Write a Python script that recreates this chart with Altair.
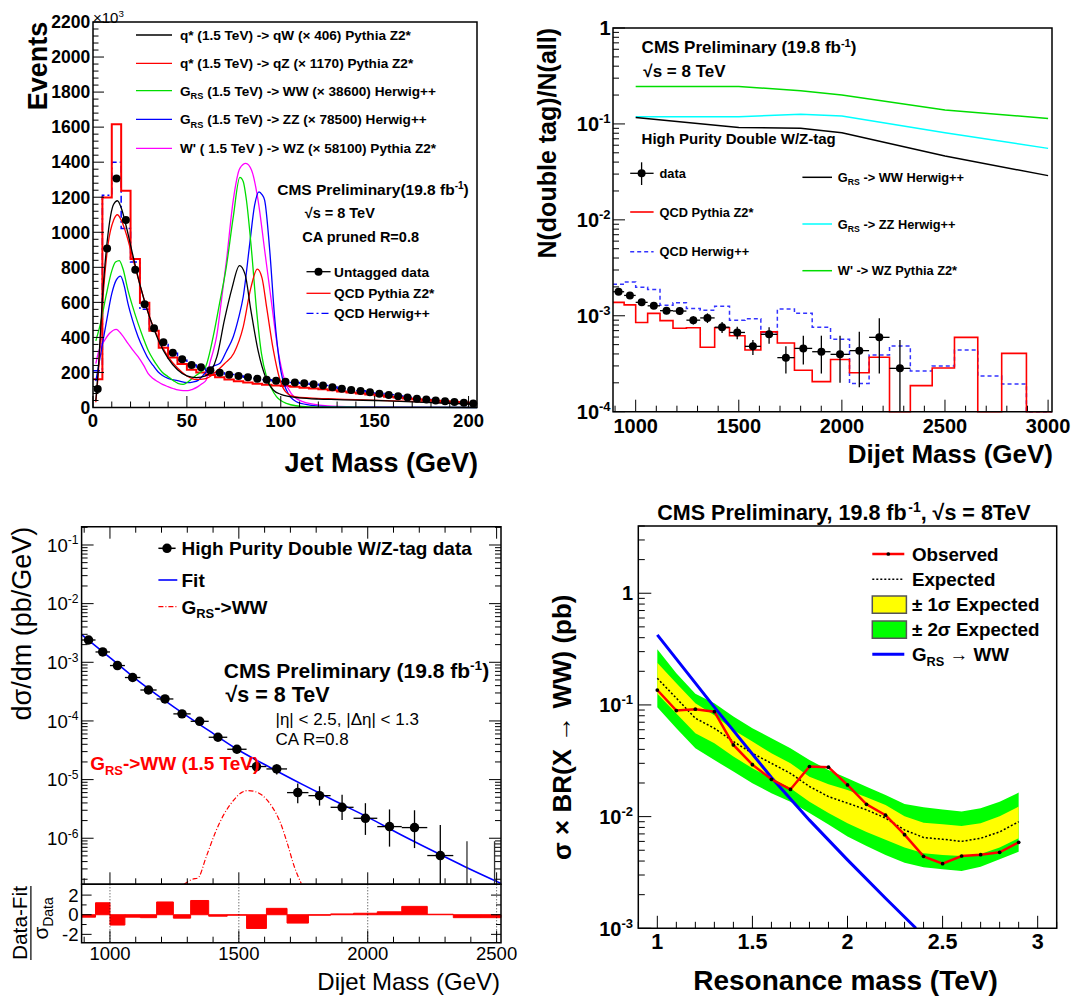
import math
import altair as alt
import pandas as pd

FONT = "Liberation Sans"
DUMMY = pd.DataFrame({"d": [0]})

# ======================= DATA =======================
# ---- top-left: jet mass ----
JM_EDGES = [0, 5, 10, 15, 20, 25, 30, 35, 40, 45, 50, 55, 60, 65, 70, 75, 80, 85, 90, 95, 100,
            105, 110, 115, 120, 125, 130, 135, 140, 145, 150, 155, 160, 165, 170, 175, 180, 185,
            190, 195, 200, 205]
JM_DATA = [105, 908, 1307, 1070, 786, 589, 452, 372, 313, 275, 243, 230, 212, 199, 187, 180, 172,
           164, 158, 153, 147, 143, 138, 133, 125, 115, 107, 100, 94, 87, 78, 71, 64, 57, 50, 45,
           40, 35, 31, 27, 23]
JM_PYTHIA = [161, 1199, 1616, 1237, 847, 598, 438, 341, 286, 248, 215, 200, 185, 172, 160, 150,
             142, 135, 130, 126, 122, 118, 113, 108, 104, 98, 92, 86, 80, 74, 68, 62, 57, 52, 47,
             43, 39, 35, 32, 28, 25]
JM_HERWIG = [210, 1212, 1399, 1022, 830, 560, 440, 360, 310, 270, 242, 225, 210, 198, 188, 180,
             172, 165, 159, 153, 148, 143, 138, 133, 126, 117, 109, 102, 95, 88, 80, 73, 66, 59,
             52, 46, 41, 36, 32, 28, 24]
QW_X = [1.5, 3, 5, 8, 11, 13, 15, 18, 21, 25, 30, 35, 40, 45, 50, 55, 60, 63, 66, 70, 74, 78, 81,
        84, 88, 92, 96, 100, 105, 110, 120, 130, 140, 150, 160, 170, 180, 190, 200, 204.5]
QW_Y = [40, 250, 620, 990, 1160, 1180, 1140, 1020, 880, 700, 520, 380, 280, 215, 180, 170, 180,
        210, 290, 500, 680, 810, 760, 560, 320, 170, 100, 75, 62, 55, 48, 45, 42, 40, 36, 32, 28,
        24, 20, 18]
QZ_X = [1.5, 3, 5, 8, 11, 13, 15, 18, 21, 25, 30, 35, 40, 45, 50, 55, 60, 65, 70, 75, 80, 84,
        87.5, 90, 92.5, 96, 99.5, 103, 108, 115, 125, 140, 160, 180, 200, 204.5]
QZ_Y = [30, 220, 580, 930, 1070, 1100, 1070, 980, 860, 700, 520, 390, 290, 225, 180, 160, 165,
        200, 250, 310, 460, 680, 790, 740, 570, 330, 160, 85, 60, 55, 50, 45, 38, 30, 22, 20]
WW_X = [1.5, 4, 7, 10, 12, 14, 16, 18.6, 21, 24, 27, 29.3, 32, 34.6, 37, 40, 43, 45.2, 48, 51,
        54, 57, 60, 64, 67.5, 71, 74.7, 78.2, 80, 81.7, 84.4, 87.1, 89.7, 92.4, 95, 97.7, 100,
        103, 108, 115, 130, 150, 204.5]
WW_Y = [380, 480, 640, 780, 830, 838, 790, 670, 580, 480, 390, 328, 275, 233, 200, 176, 152, 138,
        132, 150, 176, 200, 233, 404, 600, 803, 1088, 1313, 1290, 1184, 899, 556, 309, 176, 110,
        62, 40, 24, 10, 4, 2, 1, 0]
ZZ_X = [1.5, 4, 7, 10, 12.5, 14.7, 16.5, 18.6, 21, 24, 27, 29.3, 32, 34.6, 37, 40, 45, 50.5, 53,
        56, 60, 64, 67.6, 71, 74.7, 77.5, 80, 83.5, 86, 88.4, 90, 91.4, 94.1, 96.7, 99.4, 101,
        103, 108.3, 115.4, 125, 150, 204.5]
ZZ_Y = [150, 300, 480, 650, 730, 750, 700, 594, 500, 404, 330, 281, 240, 204, 183, 166, 153, 142,
        145, 155, 200, 235, 252, 320, 404, 510, 632, 937, 1150, 1231, 1215, 1184, 899, 518, 252,
        160, 100, 33, 14, 5, 2, 0]
WZ_X = [1.5, 3, 6, 9, 12.4, 15, 18.6, 21, 24, 27, 29.3, 32, 34.6, 37, 39.9, 43, 45.2, 48, 50.5,
        53, 55.9, 58, 60.3, 62.2, 64, 65.8, 68.5, 71.1, 74.7, 78.2, 81.4, 84.4, 87.9, 91.4, 94.9,
        98.5, 102, 105.5, 111.7, 120.6, 135, 160, 204.5]
WZ_Y = [250, 320, 380, 425, 446, 420, 366, 330, 290, 240, 195, 165, 147, 132, 119, 107, 100, 96,
        96, 104, 119, 135, 157, 252, 320, 404, 620, 841, 1184, 1365, 1393, 1355, 1184, 899, 613,
        328, 157, 81, 33, 14, 5, 2, 0]

# ---- top-right: double-tag fraction vs dijet mass ----
DJ_EDGES = [890, 944, 1000, 1058, 1118, 1181, 1246, 1313, 1383, 1455, 1530, 1607, 1687, 1770,
            1856, 1945, 2037, 2132, 2231, 2332, 2438, 2546, 2659, 2775, 2895, 3019]
FR_PYTHIA = [1.38e-3, 1.3e-3, 8.5e-4, 1.06e-3, 8.9e-4, 7.4e-4, 7.5e-4, 4.7e-4, 7.5e-4, 6.2e-4,
             4.4e-4, 6.8e-4, 5.2e-4, 2.7e-4, 2.06e-4, 3.5e-4, 2.55e-4, 3.7e-4, 0, 1.87e-4,
             2.85e-4, 5.96e-4, 0, 4.06e-4, 0]
FR_HERWIG = [2.13e-3, 2.25e-3, 1.98e-3, 1.88e-3, 1.29e-3, 1.37e-3, 1.19e-3, 1.14e-3, 1.26e-3,
             9.0e-4, 9.3e-4, 6.7e-4, 1.18e-3, 1.06e-3, 7.6e-4, 5.7e-4, 1.97e-4, 3.9e-4, 4.84e-4,
             2.66e-4, 2.99e-4, 4.4e-4, 2.35e-4, 1.94e-4, 0]
FR_DATA = [1.78e-3, 1.63e-3, 1.38e-3, 1.27e-3, 1.13e-3, 1.12e-3, 9.0e-4, 9.5e-4, 7.6e-4, 6.7e-4,
           4.8e-4, 6.4e-4, 3.66e-4, 4.57e-4, 4.22e-4, 3.96e-4, 4.33e-4, 5.96e-4, 2.83e-4]
FR_LO = [1.68e-3, 1.54e-3, 1.29e-3, 1.18e-3, 1.04e-3, 1.02e-3, 8.1e-4, 8.4e-4, 6.6e-4, 5.7e-4,
         3.9e-4, 5.1e-4, 2.5e-4, 3.1e-4, 2.5e-4, 2.0e-4, 1.8e-4, 2.5e-4, 1e-4]
FR_HI = [1.88e-3, 1.72e-3, 1.47e-3, 1.36e-3, 1.22e-3, 1.22e-3, 9.9e-4, 1.06e-3, 8.6e-4, 7.7e-4,
         5.6e-4, 7.6e-4, 4.8e-4, 6.2e-4, 6.2e-4, 6.2e-4, 6.8e-4, 9.4e-4, 5.6e-4]
SIG_M = [1000, 1500, 1800, 2000, 2500, 3000]
SIG_WW = [0.117, 0.092, 0.090, 0.081, 0.0463, 0.0289]
SIG_ZZ = [0.119, 0.119, 0.126, 0.121, 0.081, 0.0556]
SIG_WZ = [0.246, 0.246, 0.222, 0.200, 0.140, 0.114]

# ---- bottom-left: dijet spectrum ----
XS_DATA = [2.40e-3, 1.50e-3, 8.8e-4, 5.5e-4, 3.37e-4, 2.37e-4, 1.32e-4, 9.86e-5, 5.27e-5,
           3.29e-5, 1.67e-5, 1.52e-5, 6.0e-6, 5.33e-6, 3.37e-6, 2.19e-6, 1.58e-6, 1.52e-6, 5.07e-7]
XS_LO = [2.3e-3, 1.43e-3, 8.4e-4, 5.2e-4, 3.17e-4, 2.21e-4, 1.21e-4, 8.9e-5, 4.6e-5, 2.8e-5,
         1.35e-5, 1.22e-5, 3.96e-6, 3.6e-6, 2.05e-6, 1.14e-6, 7.2e-7, 6.8e-7, 1e-9]
XS_HI = [2.5e-3, 1.57e-3, 9.2e-4, 5.8e-4, 3.57e-4, 2.53e-4, 1.43e-4, 1.08e-4, 5.9e-5, 3.8e-5,
         2.0e-5, 1.82e-5, 8.6e-6, 7.7e-6, 5.5e-6, 3.96e-6, 3.1e-6, 3.0e-6, 1.69e-6]
XS_EMPTY_HI = [8.9e-7, 8.9e-7]
FIT_M = [890, 1000, 1125, 1250, 1375, 1500, 1625, 1750, 1875, 2000, 2125, 2250, 2375, 2517]
FIT_V = [2.95e-3, 1.2e-3, 4.27e-4, 1.7e-4, 7.24e-5, 3.16e-5, 1.58e-5, 8.13e-6, 4.27e-6, 2.29e-6,
         1.17e-6, 6.17e-7, 3.31e-7, 1.70e-7]
SIGX_M = [1287, 1320, 1341, 1374, 1408, 1441, 1481, 1510, 1537, 1565, 1588, 1628, 1662, 1688,
          1715, 1742]
SIGX_V = [1.64e-7, 2.0e-7, 2.1e-7, 4.9e-7, 1.23e-6, 2.5e-6, 4.5e-6, 6.0e-6, 6.5e-6, 6.2e-6,
          5.5e-6, 3.5e-6, 1.8e-6, 8.2e-7, 3.3e-7, 1.7e-7]
PULL = [-0.25, 1.22, -1.05, -0.25, -0.3, 1.3, -0.35, 1.45, -0.15, -0.05, -1.4, 0.65, -0.85,
        -0.05, 0.08, 0.15, 0.3, 0.85, 0.05, -0.3, -0.3]

# ---- bottom-right: limits ----
MASS = [1.0, 1.1, 1.2, 1.3, 1.4, 1.5, 1.6, 1.7, 1.8, 1.9, 2.0, 2.1, 2.2, 2.3, 2.4, 2.5, 2.6, 2.7,
        2.8, 2.9]
OBS = [0.136, 0.089, 0.0915, 0.087, 0.0438, 0.0292, 0.0216, 0.0175, 0.0281, 0.0277, 0.0192,
       0.0129, 0.0103, 0.00689, 0.00441, 0.00379, 0.00444, 0.00456, 0.00479, 0.00589]
EXP = [0.173, 0.115, 0.076, 0.0618, 0.047, 0.0369, 0.030, 0.0244, 0.0186, 0.0151, 0.0132, 0.0115,
       0.0097, 0.0076, 0.0065, 0.00627, 0.0060, 0.0064, 0.0073, 0.0090]
S1_HI = [0.239, 0.156, 0.1035, 0.081, 0.0597, 0.047, 0.0369, 0.030, 0.0228, 0.0195, 0.0173,
         0.0149, 0.0127, 0.0101, 0.00883, 0.00853, 0.00824, 0.00871, 0.0101, 0.0123]
S1_LO = [0.126, 0.084, 0.0557, 0.0454, 0.0345, 0.0271, 0.0220, 0.0179, 0.0136, 0.0108, 0.0087,
         0.0073, 0.0062, 0.0053, 0.0047, 0.00453, 0.00444, 0.00462, 0.0053, 0.0064]
S2_HI = [0.315, 0.192, 0.126, 0.1035, 0.0786, 0.0618, 0.0503, 0.0409, 0.0321, 0.0262, 0.0220,
         0.0185, 0.0156, 0.0130, 0.0121, 0.0116, 0.0111, 0.0119, 0.0136, 0.0164]
S2_LO = [0.0953, 0.0618, 0.0409, 0.0321, 0.0253, 0.0199, 0.0162, 0.0136, 0.0108, 0.0085, 0.00662,
         0.00546, 0.00453, 0.00387, 0.00352, 0.00338, 0.00326, 0.00356, 0.00415, 0.00485]
GRS_M = [1.0, 1.3, 1.6, 1.8, 2.0, 2.2, 2.36]
GRS_V = [0.424, 0.0955, 0.0224, 0.0093, 0.0041, 0.00186, 0.001]

# ---- tick labels ----
P1_XT = [0, 50, 100, 150, 200]
P1_YT = [0, 200, 400, 600, 800, 1000, 1200, 1400, 1600, 1800, 2000, 2200]
P2_XT = [1000, 1500, 2000, 2500, 3000]
P2_YT = [1e-4, 1e-3, 1e-2, 1e-1, 1.0]
P3_XT = [1000, 1500, 2000, 2500]
P3_YT = [1e-6, 1e-5, 1e-4, 1e-3, 1e-2, 1e-1]
P3_RT = [-2, 0, 2]
P4_XT = [1, 1.5, 2, 2.5, 3]
P4_XL = ["1", "1.5", "2", "2.5", "3"]
P4_YT = [1e-3, 1e-2, 1e-1, 1.0]

# ======================= HELPERS =======================
_WB = {" ": 278, "!": 333, "(": 333, ")": 333, "*": 389, "+": 584, ",": 278, "-": 333, ".": 278,
       "/": 278, ":": 333, "<": 584, "=": 584, ">": 584, "'": 238, "|": 280,
       "A": 722, "B": 722, "C": 722, "D": 722, "E": 667, "F": 611, "G": 778, "H": 722, "I": 278,
       "J": 556, "K": 722, "L": 611, "M": 833, "N": 722, "O": 778, "P": 667, "Q": 778, "R": 722,
       "S": 667, "T": 611, "U": 722, "V": 667, "W": 944, "X": 667, "Y": 667, "Z": 611,
       "a": 556, "b": 611, "c": 556, "d": 611, "e": 556, "f": 333, "g": 611, "h": 611, "i": 278,
       "j": 278, "k": 556, "l": 278, "m": 889, "n": 611, "o": 611, "p": 611, "q": 611, "r": 389,
       "s": 556, "t": 333, "u": 611, "v": 556, "w": 778, "x": 556, "y": 556, "z": 500,
       "\u00d7": 584, "\u221a": 549, "\u2192": 1000, "\u00b1": 584, "\u03c3": 617}
_WR = dict(_WB)
_WR.update({"A": 667, "a": 556, "b": 556, "d": 556, "e": 556, "f": 278, "g": 556, "h": 556,
            "i": 222, "j": 222, "l": 222, "m": 833, "n": 556, "o": 556, "p": 556, "q": 556,
            "r": 333, "s": 500, "t": 278, "u": 556, "v": 500, "y": 500, "|": 260})


def tw(s, size, bold=True):
    tbl = _WB if bold else _WR
    return sum(tbl.get(c, 556) for c in s) / 1000.0 * size


def T(o, s, x, y, size, bold=True, color="black", align="left", baseline="alphabetic", angle=0):
    lead = len(s) - len(s.lstrip(" "))
    s = s.strip(" ")
    x = x + lead * 0.278 * size
    kw = dict(text=s, font=FONT, fontSize=size, fontWeight="bold" if bold else "normal",
              color=color, align=align, baseline=baseline)
    if angle:
        kw["angle"] = angle
    return alt.Chart(DUMMY).mark_text(**kw).encode(x=alt.value(x - o[0]), y=alt.value(y - o[1]))


def rich(o, parts, x, y, size, bold=True, color="black", align="left"):
    sizes = {"n": size, "sup": size * 0.65, "sub": size * 0.68}
    shift = {"n": 0.0, "sup": -0.38 * size, "sub": 0.25 * size}
    widths = [tw(s, sizes[k], bold) for s, k in parts]
    total = sum(widths)
    if align == "center":
        x -= total / 2
    elif align == "right":
        x -= total
    out, cx = [], x
    for (s, k), w in zip(parts, widths):
        out.append(T(o, s, cx, y + shift[k], sizes[k], bold, color))
        cx += w
    return out


def GRS(o, x, y, size, rest, bold=True, color="black"):
    return rich(o, [("G", "n"), ("RS", "sub"), (rest, "n")], x, y, size, bold, color)


def HL(o, x1, x2, y, color, width=1.5, dash=None):
    kw = dict(color=color, strokeWidth=width)
    if dash:
        kw["strokeDash"] = dash
    return alt.Chart(DUMMY).mark_rule(**kw).encode(
        x=alt.value(x1 - o[0]), x2=alt.value(x2 - o[0]), y=alt.value(y - o[1]))


def VL(o, x, y1, y2, color="black", width=1.5):
    return alt.Chart(DUMMY).mark_rule(color=color, strokeWidth=width).encode(
        x=alt.value(x - o[0]), y=alt.value(y1 - o[1]), y2=alt.value(y2 - o[1]))


def BOX(o, x1, x2, y1, y2, fill="white", fill_op=0.0, stroke="black", sw=1.5):
    return alt.Chart(DUMMY).mark_rect(fill=fill, fillOpacity=fill_op, stroke=stroke,
                                      strokeWidth=sw).encode(
        x=alt.value(x1 - o[0]), x2=alt.value(x2 - o[0]),
        y=alt.value(y1 - o[1]), y2=alt.value(y2 - o[1]))


def DOT(o, x, y, size, color="black"):
    return alt.Chart(DUMMY).mark_circle(size=size, color=color, opacity=1).encode(
        x=alt.value(x - o[0]), y=alt.value(y - o[1]))


def xticks(vals, xs, ypix, length):
    df = pd.DataFrame({"t": vals})
    return alt.Chart(df).mark_rule(color="black", strokeWidth=1).encode(
        x=alt.X("t:Q", scale=xs, axis=None), y=alt.value(ypix), y2=alt.value(ypix + length))


def yticks(vals, ys, xpix, length):
    df = pd.DataFrame({"t": vals})
    return alt.Chart(df).mark_rule(color="black", strokeWidth=1).encode(
        y=alt.Y("t:Q", scale=ys, axis=None), x=alt.value(xpix), x2=alt.value(xpix + length))


def xlab(vals, labs, xs, ybase, size, bold=True):
    df = pd.DataFrame({"t": vals, "lab": labs})
    return alt.Chart(df).mark_text(font=FONT, fontSize=size,
                                   fontWeight="bold" if bold else "normal", color="black",
                                   align="center", baseline="alphabetic").encode(
        x=alt.X("t:Q", scale=xs, axis=None), y=alt.value(ybase), text="lab:N")


def ylab(vals, labs, ys, xright, size, bold=True, dy_extra=0.0, align="right"):
    df = pd.DataFrame({"t": vals, "lab": labs})
    return alt.Chart(df).mark_text(font=FONT, fontSize=size,
                                   fontWeight="bold" if bold else "normal", color="black",
                                   align=align, baseline="alphabetic",
                                   dy=0.36 * size + dy_extra).encode(
        y=alt.Y("t:Q", scale=ys, axis=None), x=alt.value(xright), text="lab:N")


def ylab_pow(vals, ys, xright, size, bold=True):
    sup = size * 0.65
    wsup = tw("-0", sup, bold)
    exps = [round(math.log10(v)) for v in vals]
    neg = [v for v, e in zip(vals, exps) if e != 0]
    negl = [str(e) for e in exps if e != 0]
    one = [v for v, e in zip(vals, exps) if e == 0]
    out = [ylab(neg, ["10"] * len(neg), ys, xright - wsup, size, bold)]
    df = pd.DataFrame({"t": neg, "lab": negl})
    out.append(alt.Chart(df).mark_text(font=FONT, fontSize=sup,
                                       fontWeight="bold" if bold else "normal", color="black",
                                       align="left", baseline="alphabetic",
                                       dy=0.36 * size - 0.4 * size).encode(
        y=alt.Y("t:Q", scale=ys, axis=None), x=alt.value(xright - wsup), text="lab:N"))
    if one:
        out.append(ylab(one, ["1"] * len(one), ys, xright, size, bold))
    return out


def step_df(edges, vals):
    return pd.DataFrame({"x": edges, "y": list(vals) + [vals[-1]]})


def log_minor(lo, hi, e0, e1):
    return [k * 10.0 ** e for e in range(e0, e1) for k in range(2, 10) if lo <= k * 10.0 ** e <= hi]


CW1, CW2, RH1, RH2 = 532, 535, 482, 490

# ======================= PANEL 1 =======================
o = (8, 8)
X0, X1, Y0, Y1 = 93, 477, 22, 407.5
xs1 = alt.Scale(domain=[0, 204.5], range=[X0 - o[0], X1 - o[0]], nice=False, zero=False, clamp=True)
ys1 = alt.Scale(domain=[0, 2200], range=[Y1 - o[1], Y0 - o[1]], nice=False, zero=False)
L = []
L.append(alt.Chart(step_df(JM_EDGES, JM_HERWIG)).mark_line(
    interpolate="step-after", color="#0000ff", strokeWidth=1.5, strokeDash=[7, 3, 2, 3]).encode(
    x=alt.X("x:Q", scale=xs1, axis=None), y=alt.Y("y:Q", scale=ys1, axis=None)))
L.append(alt.Chart(step_df(JM_EDGES, JM_PYTHIA)).mark_line(
    interpolate="step-after", color="#ff0000", strokeWidth=2).encode(
    x=alt.X("x:Q", scale=xs1, axis=None), y=alt.Y("y:Q", scale=ys1, axis=None)))
for sx, sy, col in [(WZ_X, WZ_Y, "#ff00ff"), (ZZ_X, ZZ_Y, "#0000ff"), (WW_X, WW_Y, "#00dd00"),
                    (QZ_X, QZ_Y, "#ff0000"), (QW_X, QW_Y, "black")]:
    L.append(alt.Chart(pd.DataFrame({"x": sx, "y": sy})).mark_line(
        interpolate="monotone", color=col, strokeWidth=1.3).encode(
        x=alt.X("x:Q", scale=xs1, axis=None), y=alt.Y("y:Q", scale=ys1, axis=None)))
jm_c = [(a + b) / 2 for a, b in zip(JM_EDGES[:-1], JM_EDGES[1:])]
L.append(alt.Chart(pd.DataFrame({"x": jm_c, "y": JM_DATA})).mark_circle(
    size=64, color="black", opacity=1).encode(
    x=alt.X("x:Q", scale=xs1, axis=None), y=alt.Y("y:Q", scale=ys1, axis=None)))
L.append(BOX(o, X0, X1, Y0, Y1))
L.append(xticks(P1_XT, xs1, Y1 - o[1], -11.5))
L.append(xticks([v for v in range(10, 205, 10) if v % 50], xs1, Y1 - o[1], -6))
L.append(yticks(P1_YT, ys1, X0 - o[0], 11))
L.append(yticks([v for v in range(40, 2200, 40) if v % 200], ys1, X0 - o[0], 5.5))
L.append(xlab(P1_XT, [str(v) for v in P1_XT], xs1, 426.7 - o[1], 18.5))
L.append(ylab(P1_YT, [str(v) for v in P1_YT], ys1, 90.2 - o[0], 17.5))
L.append(T(o, "Jet Mass (GeV)", 478, 472, 27, align="right"))
L.append(T(o, "Events", 46.5, 21.7, 27, align="right", angle=270))
L.extend(rich(o, [("\u00d710", "n"), ("3", "sup")], 93, 23, 15, bold=False))
rows = [35, 63.3, 90.7, 119.3, 148.3]
fs = 13.6
L.append(HL(o, 136, 172, rows[0], "black", 1.3))
L.append(T(o, "q* (1.5 TeV) -> qW (\u00d7 406) Pythia Z2*", 180, rows[0] + 0.36 * fs, fs))
L.append(HL(o, 136, 172, rows[1], "#ff0000", 1.3))
L.append(T(o, "q* (1.5 TeV) -> qZ (\u00d7 1170) Pythia Z2*", 180, rows[1] + 0.36 * fs, fs))
L.append(HL(o, 136, 172, rows[2], "#00dd00", 1.3))
L.extend(GRS(o, 180, rows[2] + 0.36 * fs, fs, " (1.5 TeV) -> WW (\u00d7 38600) Herwig++"))
L.append(HL(o, 136, 172, rows[3], "#0000ff", 1.3))
L.extend(GRS(o, 180, rows[3] + 0.36 * fs, fs, " (1.5 TeV) -> ZZ (\u00d7 78500) Herwig++"))
L.append(HL(o, 136, 172, rows[4], "#ff00ff", 1.3))
L.append(T(o, "W' ( 1.5 TeV ) -> WZ (\u00d7 58100) Pythia Z2*", 180, rows[4] + 0.36 * fs, fs))
L.extend(rich(o, [("CMS Preliminary(19.8 fb", "n"), ("-1", "sup"), (")", "n")], 277.2, 195, 15.5))
L.append(T(o, "\u221as = 8 TeV", 304.7, 218.3, 14.5))
L.append(T(o, "CA pruned R=0.8", 302.3, 241.7, 14.5))
r2 = [271.7, 293.3, 313.3]
fs = 13.7
L.append(HL(o, 306.5, 330.6, r2[0], "black", 1.3))
L.append(DOT(o, 318.5, r2[0], 64))
L.append(T(o, "Untagged data", 334, r2[0] + 0.36 * fs, fs))
L.append(HL(o, 306.5, 330.6, r2[1], "#ff0000", 1.3))
L.append(T(o, "QCD Pythia Z2*", 334, r2[1] + 0.36 * fs, fs))
L.append(HL(o, 306.5, 330.6, r2[2], "#0000ff", 1.3, [7, 3, 2, 3]))
L.append(T(o, "QCD Herwig++", 334, r2[2] + 0.36 * fs, fs))
p1 = alt.layer(*L).properties(width=CW1, height=RH1)

# ======================= PANEL 2 =======================
o = (540, 8)
X0, X1, Y0, Y1 = 613, 1052, 28, 411.7
xs2 = alt.Scale(domain=[890, 3019], range=[X0 - o[0], X1 - o[0]], nice=False, zero=False, clamp=True)
ys2 = alt.Scale(type="log", domain=[1e-4, 1], range=[Y1 - o[1], Y0 - o[1]], nice=False, clamp=True)
L = []
for sy, col in [(SIG_WZ, "#00dd00"), (SIG_ZZ, "#00ffff"), (SIG_WW, "black")]:
    L.append(alt.Chart(pd.DataFrame({"x": SIG_M, "y": sy})).mark_line(
        color=col, strokeWidth=1.5).encode(
        x=alt.X("x:Q", scale=xs2, axis=None), y=alt.Y("y:Q", scale=ys2, axis=None)))
L.append(alt.Chart(step_df(DJ_EDGES, FR_HERWIG)).transform_calculate(
    yc="max(datum.y, 1e-4)").mark_line(
    interpolate="step-after", color="#3333ff", strokeWidth=1.5, strokeDash=[4, 3]).encode(
    x=alt.X("x:Q", scale=xs2, axis=None), y=alt.Y("yc:Q", scale=ys2, axis=None)))
L.append(alt.Chart(step_df(DJ_EDGES, FR_PYTHIA)).transform_calculate(
    yc="max(datum.y, 1e-4)").mark_line(
    interpolate="step-after", color="#ff0000", strokeWidth=1.6).encode(
    x=alt.X("x:Q", scale=xs2, axis=None), y=alt.Y("yc:Q", scale=ys2, axis=None)))
n = len(FR_DATA)
dj_c = [(a + b) / 2 for a, b in zip(DJ_EDGES[:-1], DJ_EDGES[1:])]
df2 = pd.DataFrame({"c": dj_c[:n], "a": DJ_EDGES[:n], "b": DJ_EDGES[1:n + 1], "v": FR_DATA,
                    "lo": FR_LO, "hi": FR_HI})
L.append(alt.Chart(df2).mark_rule(color="black", strokeWidth=1.3).encode(
    x=alt.X("a:Q", scale=xs2, axis=None), x2="b:Q", y=alt.Y("v:Q", scale=ys2, axis=None)))
L.append(alt.Chart(df2).mark_rule(color="black", strokeWidth=1.3).encode(
    x=alt.X("c:Q", scale=xs2, axis=None), y=alt.Y("lo:Q", scale=ys2, axis=None), y2="hi:Q"))
L.append(alt.Chart(df2).mark_circle(size=64, color="black", opacity=1).encode(
    x=alt.X("c:Q", scale=xs2, axis=None), y=alt.Y("v:Q", scale=ys2, axis=None)))
L.append(BOX(o, X0, X1, Y0, Y1))
L.append(xticks(P2_XT, xs2, Y1 - o[1], -12))
L.append(xticks([v for v in range(900, 3001, 100) if v % 500], xs2, Y1 - o[1], -6))
L.append(yticks(P2_YT, ys2, X0 - o[0], 12))
L.append(yticks(log_minor(1e-4, 1, -4, 0), ys2, X0 - o[0], 6))
L.append(xlab(P2_XT, [str(v) for v in P2_XT], xs2, 432.7 - o[1], 20))
L.extend(ylab_pow(P2_YT, ys2, 610.6 - o[0], 20))
L.append(T(o, "Dijet Mass (GeV)", 1053, 463.3, 26, align="right"))
L.append(T(o, "N(double tag)/N(all)", 556, 28, 25, align="right", angle=270))
L.extend(rich(o, [("CMS Preliminary (19.8 fb", "n"), ("-1", "sup"), (")", "n")], 641.6, 53.3, 17))
L.append(T(o, "\u221as = 8 TeV", 643.3, 76.7, 17))
L.append(T(o, "High Purity Double W/Z-tag", 641.6, 144, 15))
fs = 12.8
L.append(HL(o, 630.2, 653.6, 173.3, "black", 1.3))
L.append(VL(o, 641.6, 162.3, 185, "black", 1.3))
L.append(DOT(o, 641.6, 173.3, 64))
L.append(T(o, "data", 659.5, 173.3 + 0.36 * fs, fs))
L.append(HL(o, 630.2, 653.6, 212, "#ff0000", 1.6))
L.append(T(o, "QCD Pythia Z2*", 659.5, 212 + 0.36 * fs, fs))
L.append(HL(o, 630.2, 653.6, 251.7, "#3333ff", 1.5, [4, 3]))
L.append(T(o, "QCD Herwig++", 659.5, 251.7 + 0.36 * fs, fs))
L.append(HL(o, 802.4, 832, 177.3, "black", 1.5))
L.extend(GRS(o, 837.8, 177.3 + 0.36 * fs, fs, " -> WW Herwig++"))
L.append(HL(o, 802.4, 832, 224, "#00ffff", 1.5))
L.extend(GRS(o, 837.8, 224 + 0.36 * fs, fs, " -> ZZ Herwig++"))
L.append(HL(o, 802.4, 832, 270.7, "#00dd00", 1.5))
L.append(T(o, "W' -> WZ Pythia Z2*", 837.8, 270.7 + 0.36 * fs, fs))
p2 = alt.layer(*L).properties(width=CW2, height=RH1)

# ======================= PANEL 3 =======================
o = (8, 490)
X0, X1, Y0, YM, Y1 = 81.6, 501, 526.7, 884.3, 942.7
xs3 = alt.Scale(domain=[890, 2517], range=[X0 - o[0], X1 - o[0]], nice=False, zero=False, clamp=True)
ys3 = alt.Scale(type="log", domain=[1.64e-7, 0.205], range=[YM - o[1], Y0 - o[1]], nice=False,
                clamp=True)
yr3 = alt.Scale(domain=[-2.85, 3.1], range=[Y1 - o[1], YM - o[1]], nice=False, zero=False)
U = []
U.append(alt.Chart(pd.DataFrame({"x": FIT_M, "y": FIT_V})).mark_line(
    interpolate="monotone", color="#0000ff", strokeWidth=1.6).encode(
    x=alt.X("x:Q", scale=xs3, axis=None), y=alt.Y("y:Q", scale=ys3, axis=None)))
U.append(alt.Chart(pd.DataFrame({"x": SIGX_M, "y": SIGX_V})).mark_line(
    interpolate="monotone", color="#ff0000", strokeWidth=1.2, strokeDash=[5, 2, 1, 2]).encode(
    x=alt.X("x:Q", scale=xs3, axis=None), y=alt.Y("y:Q", scale=ys3, axis=None)))
n = len(XS_DATA)
df3 = pd.DataFrame({"c": dj_c[:n], "a": DJ_EDGES[:n], "b": DJ_EDGES[1:n + 1], "v": XS_DATA,
                    "lo": XS_LO, "hi": XS_HI})
df3e = pd.DataFrame({"c": dj_c[n:n + 2], "lo": [1e-9, 1e-9], "hi": XS_EMPTY_HI})
U.append(alt.Chart(df3).mark_rule(color="black", strokeWidth=1.3).encode(
    x=alt.X("a:Q", scale=xs3, axis=None), x2="b:Q", y=alt.Y("v:Q", scale=ys3, axis=None)))
U.append(alt.Chart(df3).mark_rule(color="black", strokeWidth=1.3).encode(
    x=alt.X("c:Q", scale=xs3, axis=None), y=alt.Y("lo:Q", scale=ys3, axis=None), y2="hi:Q"))
U.append(alt.Chart(df3e).mark_rule(color="#333333", strokeWidth=1.3).encode(
    x=alt.X("c:Q", scale=xs3, axis=None), y=alt.Y("lo:Q", scale=ys3, axis=None), y2="hi:Q"))
U.append(alt.Chart(df3).mark_circle(size=90, color="black", opacity=1).encode(
    x=alt.X("c:Q", scale=xs3, axis=None), y=alt.Y("v:Q", scale=ys3, axis=None)))
U.append(BOX(o, X0, X1, Y0, YM))
P3XMIN = [v for v in range(900, 2501, 100) if v % 500]
P3YMIN = log_minor(1.64e-7, 0.205, -7, 0)
for yp, ln in [(YM - o[1], -12), (Y0 - o[1], 12)]:
    U.append(xticks(P3_XT, xs3, yp, ln))
    U.append(xticks(P3XMIN, xs3, yp, ln / 2))
U.append(yticks(P3_YT, ys3, X0 - o[0], 12))
U.append(yticks(P3YMIN, ys3, X0 - o[0], 6))
U.append(yticks(P3_YT, ys3, X1 - o[0], -12))
U.append(yticks(P3YMIN, ys3, X1 - o[0], -6))
U.extend(ylab_pow(P3_YT, ys3, 78.5 - o[0], 18.6, bold=False))
U.append(T(o, "d\u03c3/dm (pb/GeV)", 31, 526.7, 27, bold=False, align="right", angle=270))
fs = 19
U.append(HL(o, 158.4, 175.6, 548.3, "black", 1.5))
U.append(DOT(o, 167, 548.3, 90))
U.append(T(o, "High Purity Double W/Z-tag data", 181.5, 548.3 + 0.36 * fs, fs))
U.append(HL(o, 158.4, 177.3, 580, "#0000ff", 1.6))
U.append(T(o, "Fit", 181.5, 580 + 0.36 * fs, fs))
U.append(HL(o, 158.4, 177.3, 606.7, "#ff0000", 1.2, [5, 2, 1, 2]))
U.extend(GRS(o, 181.5, 606.7 + 0.36 * fs, fs, "->WW"))
U.extend(rich(o, [("CMS Preliminary (19.8 fb", "n"), ("-1", "sup"), (")", "n")], 223.8, 678.3, 21))
U.append(T(o, "\u221as = 8 TeV", 225.5, 701.7, 21.5))
U.append(T(o, "|\u03b7| < 2.5, |\u0394\u03b7| < 1.3", 275.5, 725, 17, bold=False))
U.append(T(o, "CA R=0.8", 275.5, 745, 17, bold=False))
U.extend(GRS(o, 90.2, 770, 19, "->WW (1.5 TeV)", color="#ff0000"))
upper3 = alt.layer(*U)

R = []
dfp = pd.DataFrame({"a": DJ_EDGES[:len(PULL)], "b": DJ_EDGES[1:len(PULL) + 1], "v": PULL,
                    "z": [0] * len(PULL)})
R.append(alt.Chart(dfp).mark_rect(color="#ff0000", stroke="#ff0000", strokeWidth=1).encode(
    x=alt.X("a:Q", scale=xs3, axis=None), x2="b:Q", y=alt.Y("v:Q", scale=yr3, axis=None),
    y2="z:Q"))
R.append(alt.Chart(pd.DataFrame({"t": P3_XT})).mark_rule(
    color="black", strokeWidth=0.8, strokeDash=[1, 2]).encode(
    x=alt.X("t:Q", scale=xs3, axis=None), y=alt.value(YM - o[1]), y2=alt.value(Y1 - o[1])))
R.append(BOX(o, X0, X1, YM, Y1))
R.append(xticks(P3_XT, xs3, Y1 - o[1], -12))
R.append(xticks(P3XMIN, xs3, Y1 - o[1], -6))
R.append(yticks(P3_RT, yr3, X0 - o[0], 10))
R.append(yticks([-1, 1], yr3, X0 - o[0], 5))
R.append(yticks(P3_RT, yr3, X1 - o[0], -10))
R.append(yticks([-1, 1], yr3, X1 - o[0], -5))
R.append(xlab(P3_XT, [str(v) for v in P3_XT], xs3, 960 - o[1], 18.5, bold=False))
R.append(ylab(P3_RT, [str(v) for v in P3_RT], yr3, 78.5 - o[0], 18.6, bold=False))
R.append(T(o, "Dijet Mass (GeV)", 500, 990, 24, bold=False, align="right"))
R.append(T(o, "Data-Fit", 27, 923, 20.8, bold=False, align="center", angle=270))
R.append(VL(o, 30.9, 886, 960, "black", 1.2))
R.append(T(o, "\u03c3", 48, 933, 20.8, bold=False, align="center", angle=270))
R.append(T(o, "Data", 53, 912, 14, bold=False, align="center", angle=270))
ratio3 = alt.layer(*R)
p3 = alt.layer(upper3, ratio3).resolve_scale(y="independent").properties(width=CW1, height=RH2)

# ======================= PANEL 4 =======================
o = (540, 490)
X0, X1, Y0, Y1 = 638.3, 1056.7, 526, 928.3
xs4 = alt.Scale(domain=[0.9, 3.1], range=[X0 - o[0], X1 - o[0]], nice=False, zero=False)
ys4 = alt.Scale(type="log", domain=[1e-3, 4.0], range=[Y1 - o[1], Y0 - o[1]], nice=False, clamp=True)
df4 = pd.DataFrame({"m": MASS, "obs": OBS, "exp": EXP, "s1lo": S1_LO, "s1hi": S1_HI,
                    "s2lo": S2_LO, "s2hi": S2_HI})
L = []
L.append(alt.Chart(df4).mark_area(color="#00ff00", opacity=1).encode(
    x=alt.X("m:Q", scale=xs4, axis=None), y=alt.Y("s2lo:Q", scale=ys4, axis=None), y2="s2hi:Q"))
L.append(alt.Chart(df4).mark_area(color="#ffff00", opacity=1).encode(
    x=alt.X("m:Q", scale=xs4, axis=None), y=alt.Y("s1lo:Q", scale=ys4, axis=None), y2="s1hi:Q"))
L.append(alt.Chart(df4).mark_line(color="black", strokeWidth=1.5, strokeDash=[2, 2]).encode(
    x=alt.X("m:Q", scale=xs4, axis=None), y=alt.Y("exp:Q", scale=ys4, axis=None)))
L.append(alt.Chart(pd.DataFrame({"m": GRS_M, "v": GRS_V})).mark_line(
    color="#0000ff", strokeWidth=3).encode(
    x=alt.X("m:Q", scale=xs4, axis=None), y=alt.Y("v:Q", scale=ys4, axis=None)))
L.append(alt.Chart(df4).mark_line(color="#ff0000", strokeWidth=2.5).encode(
    x=alt.X("m:Q", scale=xs4, axis=None), y=alt.Y("obs:Q", scale=ys4, axis=None)))
L.append(alt.Chart(df4).mark_circle(size=14, color="black", opacity=1).encode(
    x=alt.X("m:Q", scale=xs4, axis=None), y=alt.Y("obs:Q", scale=ys4, axis=None)))
L.append(BOX(o, X0, X1, Y0, Y1))
L.append(xticks(P4_XT, xs4, Y1 - o[1], -12.5))
L.append(xticks([round(0.9 + 0.1 * i, 1) for i in range(23) if round(0.9 + 0.1 * i, 1) not in P4_XT],
                xs4, Y1 - o[1], -6.5))
L.append(yticks(P4_YT, ys4, X0 - o[0], 13))
L.append(yticks(log_minor(1e-3, 4.0, -3, 1), ys4, X0 - o[0], 6.5))
L.append(xlab(P4_XT, P4_XL, xs4, 949.3 - o[1], 21.5))
L.extend(ylab_pow(P4_YT, ys4, 633 - o[0], 20))
L.append(T(o, "Resonance mass (TeV)", 845.5, 990, 28, align="center"))
L.append(T(o, "\u03c3 \u00d7 BR(X \u2192 WW) (pb)", 570.6, 727.2, 26, align="center", angle=270))
L.extend(rich(o, [("CMS Preliminary, 19.8 fb", "n"), ("-1", "sup"), (", \u221as = 8TeV", "n")],
              844.8, 520, 21.5, align="center"))
fs = 18.8
L.append(HL(o, 872.3, 904.3, 554, "#ff0000", 2.5))
L.append(DOT(o, 888.3, 554, 14))
L.append(T(o, "Observed", 911.9, 554 + 0.36 * fs, fs))
L.append(HL(o, 872.3, 904.3, 579.3, "black", 1.5, [2, 2]))
L.append(T(o, "Expected", 911.9, 579.3 + 0.36 * fs, fs))
L.append(BOX(o, 872.3, 906.4, 596, 613.3, "#ffff00", 1, "#555555", 1.5))
L.append(T(o, "\u00b1 1\u03c3 Expected", 911.9, 604.7 + 0.36 * fs, fs))
L.append(BOX(o, 872.3, 906.4, 621, 638.3, "#00ff00", 1, "#555555", 1.5))
L.append(T(o, "\u00b1 2\u03c3 Expected", 911.9, 629.7 + 0.36 * fs, fs))
L.append(HL(o, 872.3, 904.3, 654.3, "#0000ff", 3))
L.extend(GRS(o, 911.9, 654.3 + 0.36 * fs, fs, " \u2192 WW"))
p4 = alt.layer(*L).properties(width=CW2, height=RH2)

chart = alt.concat(p1, p2, p3, p4, columns=2, spacing=0, bounds="flush").configure_view(
    fill="white", strokeOpacity=0).properties(padding=0, background="white")
chart.save("out.html", embed_options={"renderer": "svg", "actions": False})
